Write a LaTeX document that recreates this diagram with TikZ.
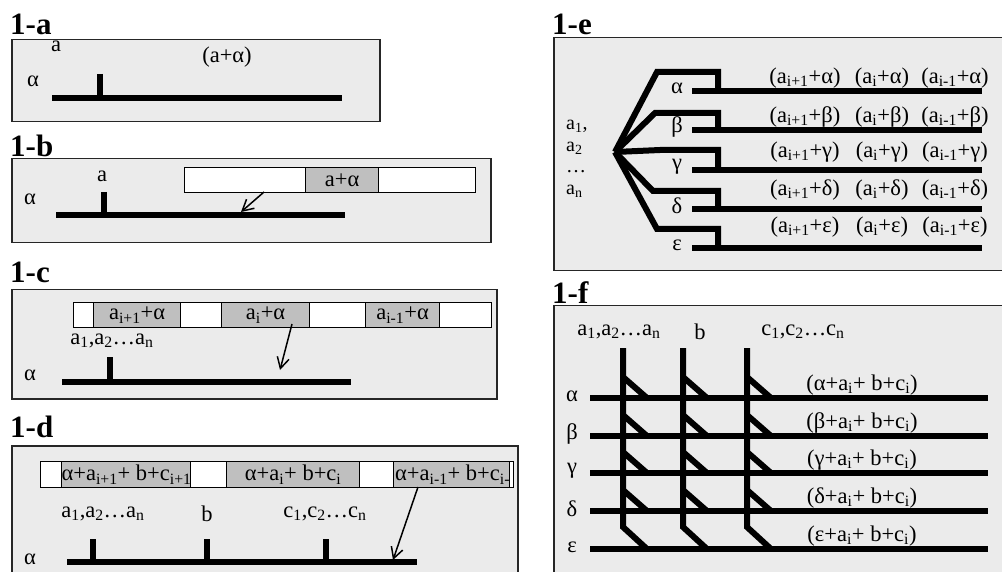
\documentclass[tikz,border=0pt]{standalone}
\usepackage{fontspec}
\setmainfont{Liberation Serif}
\usetikzlibrary{arrows.meta}
\newcommand{\sbs}[1]{\textsubscript{#1}}
\begin{document}
\begin{tikzpicture}[x=1pt,y=-1pt,
  panel/.style={draw=black!85,line width=1.5pt,fill=black!8,anchor=north west,inner sep=0pt},
  ttl/.style={font=\fontsize{31}{32}\selectfont\bfseries,inner sep=0pt,anchor=base west},
  lbl/.style={font=\fontsize{22.5}{24}\selectfont,inner sep=0pt},
  cellw/.style={draw=black,line width=1.2pt,fill=white,anchor=north west,inner sep=0pt,minimum height=25pt},
  cellg/.style={cellw,fill=black!25,font=\fontsize{22.5}{24}\selectfont},
  rail/.style={line width=6pt},
  arr/.style={line width=1.5pt,-{Straight Barb[length=11pt,width=12pt]}}]
\clip (0,0) rectangle (1002,572);
\fill[white] (0,0) rectangle (1002,572);

% ---------------- 1-a
\node[ttl] (ta) at (10,35) {1-a};
\node[panel,minimum width=368pt,minimum height=82pt] (pa) at (11,39) {};
\node[lbl] (la) at (56,46) {a};
\node[lbl] (lsa) at (227,57) {(a+α)};
\node[lbl] (lga) at (33,81) {α};
\coordinate (a0) at (52,98); \coordinate (a1) at (342,98);
\draw[rail] (a0) -- (a1);
\coordinate (as) at (100,74);
\draw[rail] (as) -- (as |- a0);

% ---------------- 1-b
\node[ttl] (tb) at (10,157) {1-b};
\node[panel,minimum width=479pt,minimum height=84pt] (pb) at (11,158) {};
\node[cellw,minimum width=121pt] (b1) at (184,167) {};
\node[cellg,minimum width=73pt] (b2) at (305,167) {a+α};
\node[cellw,minimum width=97pt] (b3) at (378,167) {};
\node[lbl] (lb) at (102,176) {a};
\node[lbl] (lgb) at (30,199) {α};
\coordinate (b0) at (56,215); \coordinate (b9) at (345,215);
\draw[rail] (b0) -- (b9);
\coordinate (bs) at (104,192);
\draw[rail] (bs) -- (bs |- b0);
\coordinate (bf) at (264,192); \coordinate (bt) at (241,212);
\draw[arr] (bf) -- (bt);

% ---------------- 1-c
\node[ttl] (tc) at (10,283) {1-c};
\node[panel,minimum width=485pt,minimum height=109pt] (pc) at (11,289) {};
\node[cellw,minimum width=20pt] (c1) at (73,302) {};
\node[cellg,minimum width=87pt] (c2) at (93,302) {a\sbs{i+1}+α};
\node[cellw,minimum width=41pt] (c3) at (180,302) {};
\node[cellg,minimum width=88pt] (c4) at (221,302) {a\sbs{i}+α};
\node[cellw,minimum width=56pt] (c5) at (309,302) {};
\node[cellg,minimum width=74pt] (c6) at (365,302) {a\sbs{i-1}+α};
\node[cellw,minimum width=52pt] (c7) at (439,302) {};
\node[lbl] (lc) at (112,341) {a\sbs{1},a\sbs{2}…a\sbs{n}};
\node[lbl] (lgc) at (30,375) {α};
\coordinate (c0) at (62,382); \coordinate (c9) at (351,382);
\draw[rail] (c0) -- (c9);
\coordinate (cs) at (110,357);
\draw[rail] (cs) -- (cs |- c0);
\coordinate (cf) at (292,324); \coordinate (ct) at (280,370);
\draw[arr] (cf) -- (ct);

% ---------------- 1-d
\node[ttl] (td) at (10,437) {1-d};
\node[panel,minimum width=506pt,minimum height=160pt] (pd) at (11,445) {};
\node[cellw,minimum width=21pt,minimum height=26pt] (d1) at (40,461) {};
\node[cellg,minimum width=129pt,minimum height=26pt] (d2) at (61,461) {α+a\sbs{i+1}+ b+c\sbs{i+1}};
\node[cellw,minimum width=36pt,minimum height=26pt] (d3) at (190,461) {};
\node[cellg,minimum width=133pt,minimum height=26pt] (d4) at (226,461) {α+a\sbs{i}+ b+c\sbs{i}};
\node[cellw,minimum width=34pt,minimum height=26pt] (d5) at (359,461) {};
\node[cellg,minimum width=116pt,minimum height=26pt] (d6) at (393,461) {};
\begin{scope}
  \clip (d6.north west) rectangle (d6.south east);
  \node[lbl,anchor=west] (d6t) at ([xshift=2pt]d6.west) {α+a\sbs{i-1}+ b+c\sbs{i-1}};
\end{scope}
\node[cellw,minimum width=4pt,minimum height=26pt] (d7) at (509,461) {};
\node[lbl] (ld1) at (103,514) {a\sbs{1},a\sbs{2}…a\sbs{n}};
\node[lbl] (ld2) at (207,514) {b};
\node[lbl] (ld3) at (325,514) {c\sbs{1},c\sbs{2}…c\sbs{n}};
\node[lbl] (lgd) at (30,559) {α};
\coordinate (d0) at (67,562); \coordinate (d9) at (417,562);
\draw[rail] (d0) -- (d9);
\foreach \x/\n in {93/ds1,207/ds2,326/ds3}{
  \coordinate (\n) at (\x,539);
  \draw[rail] (\n) -- (\n |- d0);
}
\coordinate (df) at (418,487); \coordinate (dt) at (393,560);
\draw[arr] (df) -- (dt);

% ---------------- 1-e
\node[ttl] (te) at (552,35) {1-e};
\node[panel,minimum width=460pt,minimum height=233pt] (pe) at (553,37) {};
\coordinate (eo) at (615,152);
\draw[rail] (eo) -- (657,72) -- (718,72) -- (718,91);
\draw[rail] (eo) -- (655,113) -- (718,113) -- (718,130);
\draw[rail] (eo) -- (660,150) -- (718,150) -- (718,170);
\draw[rail] (eo) -- (653,191) -- (718,191) -- (718,209);
\draw[rail] (eo) -- (657,229) -- (718,229) -- (718,248);
\foreach \y/\g/\n in {91/α/e1,130/β/e2,170/γ/e3,209/δ/e4,248/ε/e5}{
  \coordinate (\n a) at (692,\y); \coordinate (\n b) at (982,\y);
  \draw[rail] (\n a) -- (\n b);
  \node[lbl] (\n g) at (677,\y-3) {\g};
}
\node[inner sep=0pt,anchor=north west,align=left,
      font=\fontsize{20}{21.5}\selectfont] (le) at (566,120)
  {a\sbs{1},\\a\sbs{2}\\…\\a\sbs{n}};
\foreach \y/\g/\n in {78/α/f1,117/β/f2,152/γ/f3,190/δ/f4,227/ε/f5}{
  \node[lbl] (\n x) at (805,\y) {(a\sbs{i+1}+\g)};
  \node[lbl] (\n y) at (882,\y) {(a\sbs{i}+\g)};
  \node[lbl] (\n z) at (955,\y) {(a\sbs{i-1}+\g)};
}

% ---------------- 1-f
\node[ttl] (tf) at (552,304) {1-f};
\node[panel,minimum width=460pt,minimum height=300pt] (pf) at (553,305) {};
\node[lbl] (lf1) at (619,332) {a\sbs{1},a\sbs{2}…a\sbs{n}};
\node[lbl] (lf2) at (700,332) {b};
\node[lbl] (lf3) at (803,332) {c\sbs{1},c\sbs{2}…c\sbs{n}};
\foreach \y/\g/\n in {398/α/g1,436/β/g2,473/γ/g3,511/δ/g4,549/ε/g5}{
  \coordinate (\n a) at (590,\y); \coordinate (\n b) at (988,\y);
  \draw[rail] (\n a) -- (\n b);
  \node[lbl] (\n g) at (572,\y-2) {\g};
  \node[lbl] (\n t) at (862,\y-13) {(\g+a\sbs{i}+ b+c\sbs{i})};
}
\foreach \x/\n in {623/v1,683/v2,747/v3}{
  \coordinate (\n t) at (\x,348);
  \coordinate (\n b) at (\x+24,549);
  \draw[rail] (\n t) -- (\x,527) -- (\n b);
  \foreach \y in {398,436,473,511}{
    \draw[rail] (\x,\y-21) -- (\x+24,\y);
  }
}
\end{tikzpicture}
\end{document}
